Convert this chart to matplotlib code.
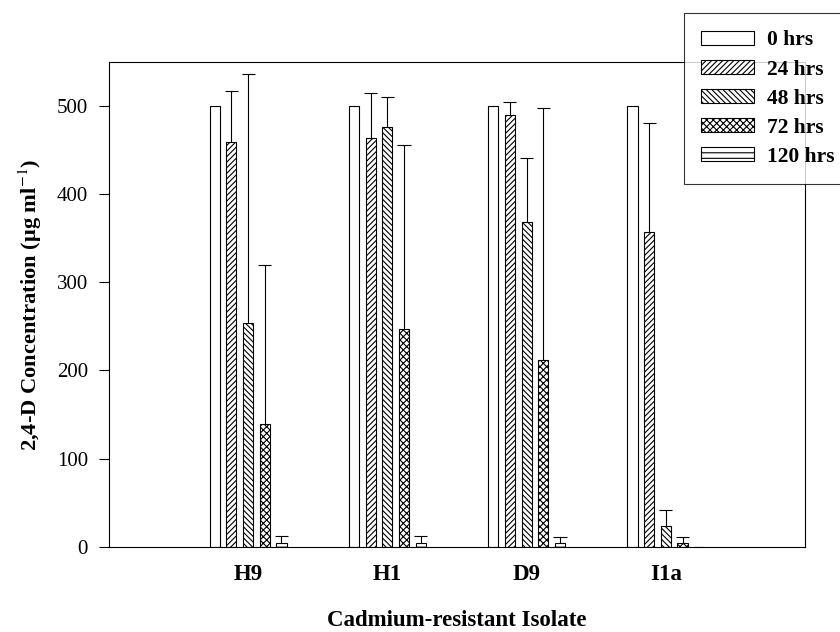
import matplotlib
matplotlib.use("Agg")
import matplotlib.pyplot as plt
import numpy as np

categories = ["H9", "H1", "D9", "I1a"]
series = ["0 hrs", "24 hrs", "48 hrs", "72 hrs", "120 hrs"]
values = {
    "0 hrs":   [500, 500, 500, 500],
    "24 hrs":  [459, 464, 490, 357],
    "48 hrs":  [254, 476, 368, 24],
    "72 hrs":  [139, 247, 212, 4.5],
    "120 hrs": [5, 5, 5, 0],
}
err_upper = {
    "0 hrs":   [0, 0, 0, 0],
    "24 hrs":  [58, 51, 14, 123],
    "48 hrs":  [282, 34, 73, 18],
    "72 hrs":  [180, 209, 285, 6.5],
    "120 hrs": [7, 7, 6, 0],
}
hatches = ["", "//////", "\\\\\\\\\\\\", "xxxxx", "---"]

plt.rcParams['font.family'] = ['Liberation Serif', 'DejaVu Serif']
plt.rcParams['mathtext.fontset'] = 'stix'
plt.rcParams['hatch.linewidth'] = 0.8

fig = plt.figure(figsize=(8.4, 6.32), dpi=100)
ax = fig.add_axes([0.1295, 0.1345, 0.829, 0.768])

x = np.arange(1, len(categories) + 1)
width = 0.073
step = 0.12
cap_half = 0.047
handles = []
for i, s in enumerate(series):
    pos = x + (i - 2) * step
    vals = np.array(values[s], dtype=float)
    errs = np.array(err_upper[s], dtype=float)
    b = ax.bar(pos, vals, width, color="white", edgecolor="black",
               linewidth=0.8, hatch=hatches[i], label=s, zorder=2)
    handles.append(b)
    mask = errs > 0
    tops = vals[mask] + errs[mask]
    ax.vlines(pos[mask], vals[mask], tops, colors="black", linewidth=0.8, zorder=3)
    ax.hlines(tops, pos[mask] - cap_half, pos[mask] + cap_half, colors="black",
              linewidth=0.8, zorder=3)

ax.set_xlim(0, 5)
ax.set_ylim(0, 550)
ax.set_yticks([0, 100, 200, 300, 400, 500])
ax.set_xticks(x)
ax.set_xticklabels(categories, fontweight="bold", fontsize=16.5)
ax.tick_params(axis="x", length=0, pad=12)
ax.tick_params(axis="y", direction="out", length=7, labelsize=15, width=0.8, pad=8)
for sp in ax.spines.values():
    sp.set_linewidth(0.8)

ax.set_ylabel("2,4-D Concentration (\u03bcg ml$^{-1}$)", fontweight="bold",
              fontsize=16.2)
ax.yaxis.set_label_coords(-0.113, 0.5)
ax.yaxis.label.set_va("center")
ax.set_xlabel("Cadmium-resistant Isolate", fontweight="bold", fontsize=16.5)
ax.xaxis.set_label_coords(0.5, -0.152)
ax.xaxis.label.set_va("center")

leg = fig.legend(handles=handles, labels=series, loc="upper left",
                 bbox_to_anchor=(0.814, 0.979), frameon=True, fancybox=False,
                 edgecolor="black", prop={"weight": "bold", "size": 15.5},
                 handlelength=2.46, handleheight=0.62, borderpad=0.8,
                 labelspacing=0.42, handletextpad=0.6, borderaxespad=0)
leg.get_frame().set_linewidth(0.8)

fig.savefig("out.png", dpi=100)
